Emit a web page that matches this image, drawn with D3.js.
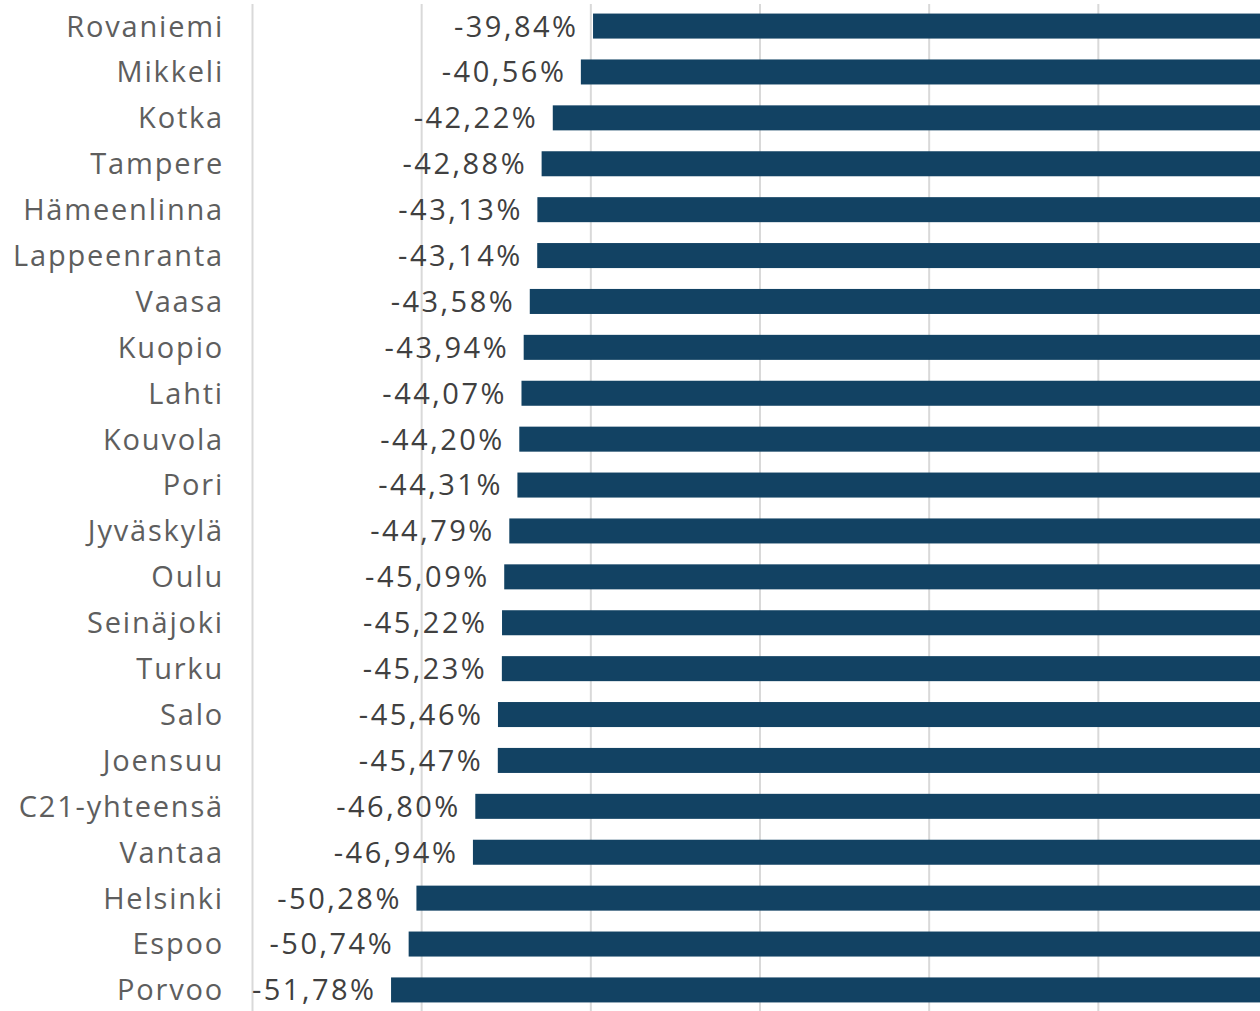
<!DOCTYPE html>
<html>
<head>
<meta charset="utf-8">
<script src="https://cdn.jsdelivr.net/npm/d3@7"></script>
<style>
  body { margin: 0; background: #fff; }
  text { font-family: "Open Sans", "Noto Sans", sans-serif; font-size: 29px; }
  .val { letter-spacing: 2.5px; }
  .cat { letter-spacing: 1.8px; }
  .grid line { stroke: #d9d9d9; stroke-width: 2; }
  .grid path { display: none; }
</style>
</head>
<body>
<svg id="chart" width="1260" height="1011"></svg>
<script>
// kunnat / change %
var cities = ["Rovaniemi", "Mikkeli", "Kotka", "Tampere", "Hämeenlinna", "Lappeenranta",
  "Vaasa", "Kuopio", "Lahti", "Kouvola", "Pori", "Jyväskylä", "Oulu", "Seinäjoki",
  "Turku", "Salo", "Joensuu", "C21-yhteensä", "Vantaa", "Helsinki", "Espoo", "Porvoo"];
var changes = [-39.84, -40.56, -42.22, -42.88, -43.13, -43.14, -43.58, -43.94, -44.07,
  -44.20, -44.31, -44.79, -45.09, -45.22, -45.23, -45.46, -45.47, -46.80, -46.94,
  -50.28, -50.74, -51.78];
var gridTicks = [-60, -50, -40, -30, -20, -10];

var data = cities.map(function(c, i) { return { city: c, value: changes[i] }; });

var svg = d3.select("#chart");

var x = d3.scaleLinear().domain([-60, 0]).range([252, 1267]);
var y = d3.scaleBand()
  .domain(cities)
  .range([3, 1013])
  .paddingInner(0.455)
  .paddingOuter(0.23);

// gridlines
svg.append("g")
  .attr("class", "grid")
  .attr("transform", "translate(0,1011)")
  .call(d3.axisBottom(x).tickValues(gridTicks).tickSize(-1007).tickFormat(""));

svg.selectAll("rect.bar")
  .data(data)
  .enter()
  .append("rect")
  .attr("class", "bar")
  .attr("x", function(d) { return x(d.value); })
  .attr("y", function(d) { return y(d.city); })
  .attr("width", function(d) { return x(0) - x(d.value); })
  .attr("height", y.bandwidth())
  .attr("fill", "#124263");

// -39,84% style (plain hyphen, decimal comma)
var fmt = function(v) {
  return v.toFixed(2).replace(".", ",") + "%";
};

svg.selectAll("text.val")
  .data(data)
  .enter()
  .append("text")
  .attr("class", "val")
  .attr("x", function(d) { return x(d.value) - 14.5; })
  .attr("y", function(d) { return y(d.city) + y.bandwidth() / 2; })
  .attr("dy", "0.36em")
  .attr("text-anchor", "end")
  .attr("fill", "#404040")
  .text(function(d) { return fmt(d.value); });

svg.selectAll("text.cat")
  .data(data)
  .enter()
  .append("text")
  .attr("class", "cat")
  .attr("x", 224)
  .attr("y", function(d) { return y(d.city) + y.bandwidth() / 2; })
  .attr("dy", "0.36em")
  .attr("text-anchor", "end")
  .attr("fill", "#5e5e5e")
  .text(function(d) { return d.city; });
</script>
</body>
</html>
